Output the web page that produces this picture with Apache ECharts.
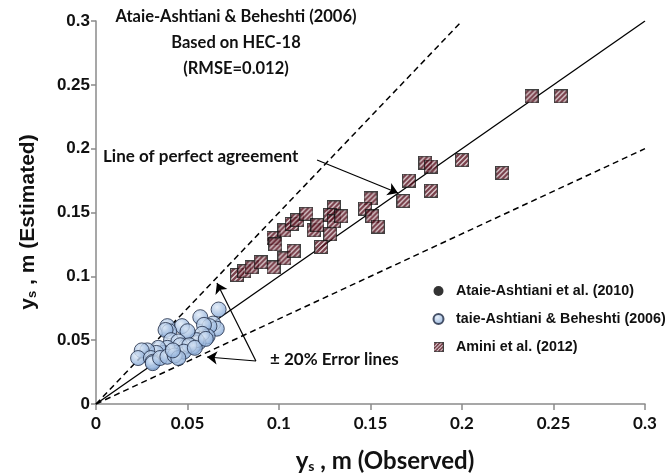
<!DOCTYPE html>
<html>
<head>
<meta charset="utf-8">
<script src="https://cdn.jsdelivr.net/npm/echarts@6/dist/echarts.min.js"></script>
<style>html,body{margin:0;padding:0;background:#fff;}#c{width:669px;height:476px;}</style>
</head>
<body>
<div id="c"></div>
<script>
// ---- data ----
const tickLabels = ['0', '0.05', '0.1', '0.15', '0.2', '0.25', '0.3'];
const seriesNames = ['Ataie-Ashtiani et al. (2010)', 'taie-Ashtiani & Beheshti (2006)', 'Amini et al. (2012)'];
const ataie2010 = [];
const ataieBeheshti2006 = [
  [0.067,0.074],[0.057,0.068],[0.064,0.063],[0.066,0.059],[0.062,0.061],[0.059,0.062],
  [0.061,0.053],[0.058,0.055],[0.056,0.048],[0.053,0.045],[0.055,0.050],[0.047,0.061],
  [0.050,0.057],[0.039,0.061],[0.040,0.057],[0.038,0.058],[0.041,0.050],[0.045,0.049],
  [0.049,0.045],[0.046,0.046],[0.051,0.046],[0.044,0.040],[0.048,0.041],[0.039,0.044],
  [0.037,0.040],[0.034,0.044],[0.033,0.040],[0.028,0.042],[0.025,0.042],[0.023,0.036],
  [0.030,0.036],[0.031,0.033],[0.031,0.032],[0.035,0.036],[0.039,0.037],[0.043,0.038],
  [0.045,0.036],[0.042,0.042],[0.054,0.044],[0.060,0.051]
];
const amini2012 = [
  [0.077,0.101],[0.081,0.104],[0.085,0.107],[0.090,0.111],[0.097,0.107],[0.097,0.130],
  [0.098,0.125],[0.103,0.114],[0.108,0.120],[0.103,0.136],[0.107,0.141],[0.110,0.144],
  [0.115,0.149],[0.119,0.136],[0.121,0.140],[0.123,0.123],[0.128,0.133],[0.130,0.154],
  [0.128,0.148],[0.130,0.143],[0.134,0.147],[0.150,0.161],[0.147,0.153],[0.151,0.147],
  [0.154,0.139],[0.168,0.159],[0.171,0.175],[0.180,0.189],[0.183,0.186],[0.183,0.167],
  [0.200,0.191],[0.222,0.181],[0.238,0.241],[0.254,0.241]
];
const perfectLine = [[0, 0], [0.3, 0.3]];
const upperErrLine = [[0, 0], [0.2, 0.3]];
const lowerErrLine = [[0, 0], [0.3, 0.2]];
// annotation arrows (data coords)
const agreementArrow = [[0.1208, 0.1911], [0.165, 0.1653]];
const errArrowUp = [[0.0874, 0.0337], [0.0661, 0.0948]];
const errArrowLeft = [[0.0874, 0.0337], [0.0607, 0.0368]];
const titleLines = ['Ataie-Ashtiani & Beheshti (2006)', 'Based on HEC-18', '(RMSE=0.012)'];

// hatched square symbol
const S = 14;
const sc = document.createElement('canvas');
sc.width = S; sc.height = S;
const g = sc.getContext('2d');
g.fillStyle = '#ffffff'; g.fillRect(0, 0, S, S);
g.save();
g.beginPath(); g.rect(1, 1, S - 2, S - 2); g.clip();
g.strokeStyle = '#5a1220'; g.lineWidth = 2.6;
g.beginPath();
for (let c = -S; c < 2 * S; c += 5) { g.moveTo(c, S); g.lineTo(c + S, 0); }
g.stroke();
g.restore();
g.strokeStyle = '#111'; g.lineWidth = 1.2;
g.strokeRect(0.6, 0.6, S - 1.2, S - 1.2);
const hatchSymbol = 'image://' + sc.toDataURL();

const blueGrad = new echarts.graphic.RadialGradient(0.4, 0.35, 0.7, [
  { offset: 0, color: '#e0ebf8' }, { offset: 1, color: '#7aa0d2' }
]);

const chart = echarts.init(document.getElementById('c'), null, { renderer: 'canvas' });
const annFont = 'bold 17px Lato';
chart.setOption({
  animation: false,
  backgroundColor: '#fff',
  grid: { left: 96, right: 24, top: 21, bottom: 72, containLabel: false },
  xAxis: {
    type: 'value', min: 0, max: 0.3, interval: 0.05,
    axisLine: { lineStyle: { color: '#8a8a8a', width: 1.5 } },
    axisTick: { show: true, length: 6, lineStyle: { color: '#8a8a8a', width: 1.5 } },
    splitLine: { show: false },
    axisLabel: {
      margin: 11, color: '#111', fontFamily: 'Lato', fontWeight: 'bold', fontSize: 17,
      formatter: (v) => tickLabels[Math.round(v / 0.05)]
    }
  },
  yAxis: {
    type: 'value', min: 0, max: 0.3, interval: 0.05,
    axisLine: { show: true, lineStyle: { color: '#8a8a8a', width: 1.5 } },
    axisTick: { show: true, length: 5, lineStyle: { color: '#8a8a8a', width: 1.5 } },
    splitLine: { show: false },
    axisLabel: {
      margin: 6, color: '#111', fontFamily: 'Liberation Sans', fontWeight: 'bold', fontSize: 17,
      formatter: (v) => tickLabels[Math.round(v / 0.05)]
    }
  },
  legend: {
    orient: 'vertical', left: 421, top: 279, itemGap: 14, itemWidth: 25, itemHeight: 10,
    data: seriesNames,
    textStyle: { fontFamily: 'Liberation Sans', fontWeight: 'bold', fontSize: 14.3, color: '#111' }
  },
  series: [
    { type: 'line', data: perfectLine, symbol: 'none', lineStyle: { color: '#000', width: 1.3 }, z: 1, silent: true },
    { type: 'line', data: upperErrLine, symbol: 'none', lineStyle: { color: '#000', width: 1.5, type: [6, 4] }, z: 1, silent: true },
    { type: 'line', data: lowerErrLine, symbol: 'none', lineStyle: { color: '#000', width: 1.5, type: [6, 4] }, z: 1, silent: true },
    {
      type: 'lines', coordinateSystem: 'cartesian2d', z: 1, silent: true,
      symbol: ['none', 'arrow'], symbolSize: 10,
      lineStyle: { color: '#000', width: 1.2, opacity: 1 },
      data: [{ coords: agreementArrow }, { coords: errArrowUp }, { coords: errArrowLeft }]
    },
    { name: seriesNames[0], type: 'scatter', data: ataie2010, symbol: 'circle', symbolSize: 10,
      itemStyle: { color: '#000' }, z: 3 },
    { name: seriesNames[1], type: 'scatter', data: ataieBeheshti2006, symbol: 'circle', symbolSize: 15,
      itemStyle: { color: blueGrad, borderColor: '#1f2b44', borderWidth: 1 }, z: 3 },
    { name: seriesNames[2], type: 'scatter', data: amini2012, symbol: hatchSymbol, symbolSize: 14, z: 3 }
  ],
  graphic: [
    ...titleLines.map((t, i) => ({
      type: 'text', x: 236, y: 17 + i * 26, z: 10,
      style: { text: t, align: 'center', verticalAlign: 'middle', font: 'bold 16.5px Lato', fill: '#111' }
    })),
    { type: 'text', x: 103, y: 157, z: 10,
      style: { text: 'Line of perfect agreement', verticalAlign: 'middle', font: annFont, fill: '#111' } },
    { type: 'text', x: 270, y: 360, z: 10,
      style: { text: '± 20% Error lines', verticalAlign: 'middle', font: annFont, fill: '#111' } },
    { type: 'text', x: 385, y: 461, z: 10,
      style: {
        text: '{a|y}{s|s}{a| , m (Observed)}', align: 'center', verticalAlign: 'middle',
        rich: {
          a: { fontFamily: 'Lato', fontWeight: 'bold', fontSize: 24, fill: '#111', color: '#111' },
          s: { fontFamily: 'Lato', fontWeight: 'bold', fontSize: 14, fill: '#111', color: '#111', verticalAlign: 'bottom', padding: [10, 0, 0, 0] }
        }
      } },
    { type: 'text', x: 28, y: 222, rotation: Math.PI / 2, z: 10,
      style: {
        text: '{a|y}{s|s}{a| , m (Estimated)}', align: 'center', verticalAlign: 'middle',
        rich: {
          a: { fontFamily: 'Liberation Sans', fontWeight: 'bold', fontSize: 21, fill: '#111', color: '#111' },
          s: { fontFamily: 'Liberation Sans', fontWeight: 'bold', fontSize: 13, fill: '#111', color: '#111', verticalAlign: 'bottom', padding: [8, 0, 0, 0] }
        }
      } }
  ]
});
</script>
</body>
</html>
